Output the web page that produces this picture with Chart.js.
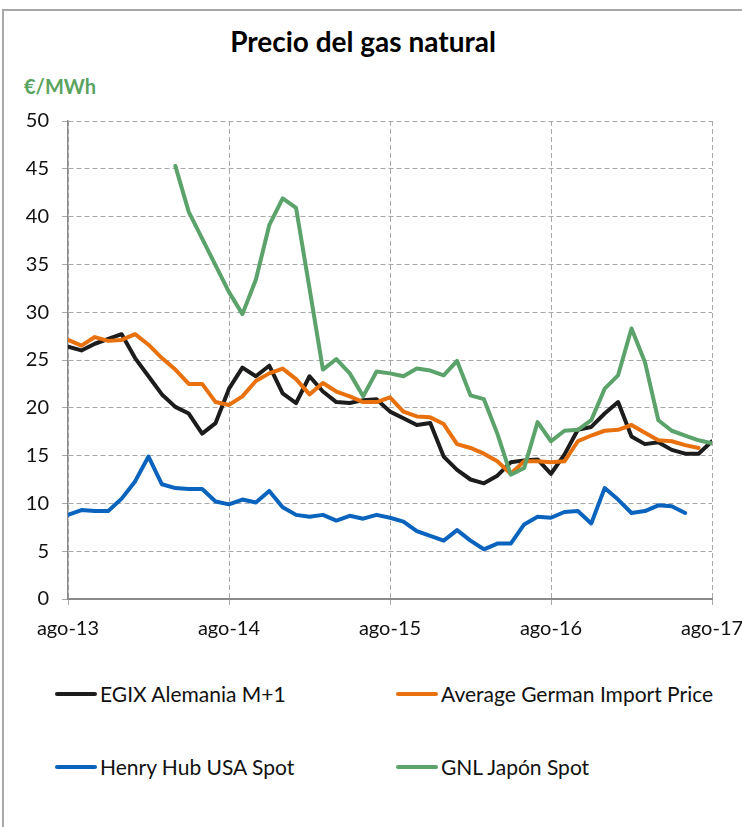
<!DOCTYPE html>
<html><head><meta charset="utf-8">
<script src="https://cdn.jsdelivr.net/npm/chart.js@4"></script>
<style>
html,body{margin:0;padding:0;background:#fff;}
body{width:742px;height:827px;overflow:hidden;position:relative;font-family:Lato,"Open Sans",sans-serif;color:#111;}
#frame{position:absolute;left:2px;top:9px;width:800px;height:900px;border-left:2px solid #a8a8a8;border-top:2px solid #a8a8a8;box-sizing:border-box;}
#title{position:absolute;left:0;width:726px;top:24px;text-align:center;font-weight:bold;font-size:28px;line-height:34px;color:#000;}
#unit{position:absolute;left:24px;top:74px;font-weight:bold;font-size:20px;line-height:24px;color:#5aa35f;}
#wrap{position:absolute;left:0;top:0;width:742px;height:660px;}
.leg{position:absolute;font-size:21px;line-height:25px;color:#111;white-space:nowrap;}
.leg i{position:absolute;height:4px;border-radius:2px;}
</style></head>
<body>
<div id="frame"></div>
<div id="title">Precio del gas natural</div>
<div id="unit">€/MWh</div>
<div id="wrap"><canvas id="c" width="742" height="660"></canvas></div>
<div id="legend"></div>
<script>
const months = ['ago-13','sep-13','oct-13','nov-13','dic-13','ene-14','feb-14','mar-14','abr-14','may-14','jun-14','jul-14',
 'ago-14','sep-14','oct-14','nov-14','dic-14','ene-15','feb-15','mar-15','abr-15','may-15','jun-15','jul-15',
 'ago-15','sep-15','oct-15','nov-15','dic-15','ene-16','feb-16','mar-16','abr-16','may-16','jun-16','jul-16',
 'ago-16','sep-16','oct-16','nov-16','dic-16','ene-17','feb-17','mar-17','abr-17','may-17','jun-17','jul-17','ago-17'];
const seriesNames = ['EGIX Alemania M+1','Average German Import Price','Henry Hub USA Spot','GNL Japón Spot'];
const egix = [26.4,26.0,26.7,27.2,27.7,25.2,23.3,21.4,20.1,19.4,17.3,18.4,
 22.0,24.2,23.3,24.4,21.5,20.5,23.3,21.7,20.6,20.5,20.8,20.9,
 19.6,18.9,18.2,18.4,14.9,13.5,12.5,12.1,12.9,14.3,14.5,14.6,
 13.1,15.1,17.7,18.0,19.4,20.6,17.0,16.2,16.4,15.6,15.2,15.2,16.5];
const germanImport = [27.1,26.5,27.4,27.0,27.1,27.7,26.6,25.2,24.0,22.5,22.5,20.6,
 20.3,21.2,22.8,23.6,24.1,23.0,21.4,22.6,21.7,21.2,20.6,20.6,
 21.1,19.6,19.1,19.0,18.3,16.2,15.8,15.2,14.4,13.1,14.4,14.4,
 14.3,14.4,16.5,17.1,17.6,17.7,18.2,17.4,16.6,16.5,16.1,15.8,null];
const henryHub = [8.8,9.3,9.2,9.2,10.5,12.3,14.9,12.0,11.6,11.5,11.5,10.2,
 9.9,10.4,10.1,11.3,9.6,8.8,8.6,8.8,8.2,8.7,8.4,8.8,
 8.5,8.1,7.1,6.6,6.1,7.2,6.1,5.2,5.8,5.8,7.8,8.6,
 8.5,9.1,9.2,7.9,11.6,10.4,9.0,9.2,9.8,9.7,9.0,null,null];
const gnlJapan = [null,null,null,null,null,null,null,null,45.3,40.5,37.7,34.9,
 32.1,29.8,33.4,39.1,41.9,40.9,32.5,24.0,25.1,23.6,21.2,23.8,
 23.6,23.3,24.1,23.9,23.4,24.9,21.3,20.9,17.3,13.0,13.7,18.5,
 16.5,17.6,17.7,18.7,22.0,23.4,28.3,24.8,18.7,17.6,17.1,16.6,16.3];
const colors = ['#1c1c1c','#e8710e','#0a64be','#5ba36a'];
const seriesData = [egix, germanImport, henryHub, gnlJapan];
const drawOrder = [4,3,2,1];

const legendPos = [[55,681],[396,681],[55,754],[396,754]];
const legend = document.getElementById('legend');
seriesNames.forEach((n,i)=>{
  const d = document.createElement('div');
  d.className='leg';
  d.style.left = (legendPos[i][0]+45)+'px';
  d.style.top = legendPos[i][1]+'px';
  d.textContent = n;
  const ln = document.createElement('i');
  ln.style.left='-45px'; ln.style.width='42px'; ln.style.top='11px'; ln.style.background=colors[i];
  d.appendChild(ln);
  legend.appendChild(d);
});

const font = {family:'Lato', size:20};
new Chart(document.getElementById('c'), {
  type:'line',
  data:{
    datasets: seriesNames.map((n,i)=>({
      label:n,
      data:seriesData[i].map((v,k)=>({x:k, y:v})),
      borderColor:colors[i], backgroundColor:colors[i],
      borderWidth:4, pointRadius:0, tension:0, fill:false, order:drawOrder[i],
      borderJoinStyle:'round', borderCapStyle:'round'
    }))
  },
  options:{
    responsive:false, animation:false,
    layout:{padding:{top:121,right:30,left:0,bottom:0}},
    plugins:{legend:{display:false}, title:{display:false}, tooltip:{enabled:false}},
    scales:{
      x:{
        type:'linear', min:0, max:months.length-1,
        afterFit:(s)=>{s.height=61; s.paddingRight=0; s.paddingLeft=0;},
        grid:{color:'#a8a8a8', lineWidth:1, tickLength:6, drawTicks:true},
        border:{display:true,color:'#8a8a8a',width:2,dash:[5,3]},
        ticks:{stepSize:12,autoSkip:false,maxRotation:0,minRotation:0,padding:12,color:'#111',font:font,
          callback:(v)=> months[v]}
      },
      y:{
        min:0,max:50,
        afterFit:(s)=>{s.width=68;},
        grid:{color:'#a8a8a8',lineWidth:1,tickLength:6},
        border:{display:true,color:'#8a8a8a',width:1.5,dash:[5,3]},
        ticks:{stepSize:5,padding:13,color:'#111',font:font}
      }
    }
  }
});
</script>
</body></html>
